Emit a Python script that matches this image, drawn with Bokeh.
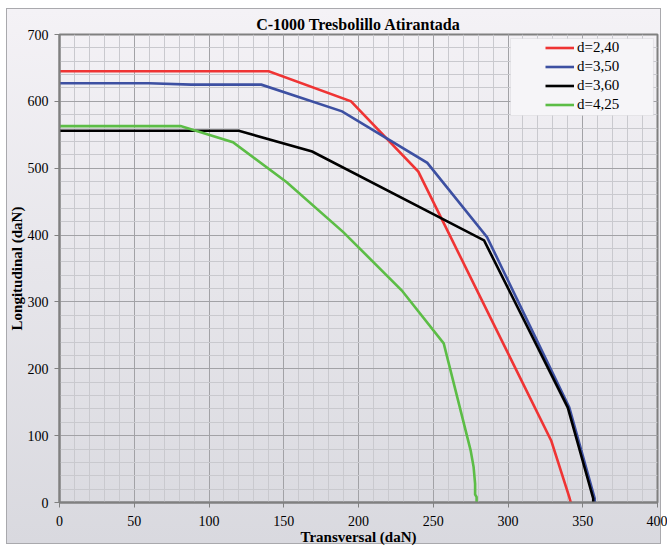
from bokeh.plotting import figure
from bokeh.models import Range1d, SingleIntervalTicker, Legend, LegendItem, BoxAnnotation
from bokeh.embed import file_html
from bokeh.resources import INLINE

# Load curves: transversal (x) vs longitudinal (y) capacity, daN
series_labels = ["d=2,40", "d=3,50", "d=3,60", "d=4,25"]
series_colors = ["#ef3434", "#3d50a2", "#000000", "#5cbd46"]

x_d240 = [0, 140, 195, 240, 329, 341, 342]
y_d240 = [645, 645, 600, 495, 92, 8, 0]

x_d350 = [0, 60, 88, 135, 189, 246, 286, 341, 358, 358]
y_d350 = [627, 627, 625, 625, 585, 508, 397, 142, 6, 0]

x_d360 = [0, 120, 169, 284, 340, 357, 357]
y_d360 = [556, 556, 525, 392, 142, 6, 0]

x_d425 = [0, 81, 116, 152, 190, 229, 257, 275, 277, 278, 278, 279, 279]
y_d425 = [563, 563, 539, 479, 404, 317, 238, 78, 53, 28, 12, 8, 0]

xs = [x_d240, x_d350, x_d360, x_d425]
ys = [y_d240, y_d350, y_d360, y_d425]

SERIF = "Liberation Serif"

p = figure(
    width=667, height=548,
    output_backend="svg", toolbar_location=None,
    x_range=Range1d(0, 400), y_range=Range1d(0, 700),
    min_border_left=59, min_border_right=10,
    min_border_top=34, min_border_bottom=46,
)

# page background: white margin, thin grey frame, soft vertical gradient
p.styles = {
    "background": (
        "linear-gradient(#f4f2f6, #d9d9df) 7px 9px / 653px 534px no-repeat, "
        "linear-gradient(#a9a9ad, #a9a9ad) 6px 8px / 655px 536px no-repeat, "
        "#ffffff"
    )
}
p.border_fill_alpha = 0
p.background_fill_alpha = 0

p.title.text = "C-1000 Tresbolillo Atirantada"
p.title.text_font = SERIF
p.title.text_font_size = "16px"
p.title.text_font_style = "bold"
p.title.text_color = "#000000"
p.title.align = "center"
p.title.standoff = 3

p.outline_line_color = "#808080"
p.outline_line_width = 2

p.xaxis.ticker = SingleIntervalTicker(interval=50, num_minor_ticks=5)
p.yaxis.ticker = SingleIntervalTicker(interval=100, num_minor_ticks=5)

for ax in (p.xaxis, p.yaxis):
    ax.axis_line_color = "#808080"
    ax.axis_line_width = 2
    ax.major_tick_line_color = "#808080"
    ax.major_tick_out = 5
    ax.major_tick_in = 0
    ax.minor_tick_line_color = None
    ax.major_label_text_font = SERIF
    ax.major_label_text_font_size = "14px"
    ax.major_label_text_color = "#000000"
    ax.axis_label_text_font = SERIF
    ax.axis_label_text_font_size = "15px"
    ax.axis_label_text_font_style = "bold"
    ax.axis_label_text_color = "#000000"
    ax.axis_label_standoff = 0

p.xaxis.axis_label = "Transversal (daN)"
p.yaxis.axis_label = "Longitudinal (daN)"
p.xaxis.major_label_standoff = 8
p.yaxis.major_label_standoff = 6

for g in (p.xgrid, p.ygrid):
    g.grid_line_color = "#a2a2a6"
    g.grid_line_width = 1
    g.minor_grid_line_color = "#c9c9ce"
    g.minor_grid_line_width = 1

items = []
for lab, col, x, y in zip(series_labels, series_colors, xs, ys):
    r = p.line(x, y, line_color=col, line_width=2.6, line_join="miter")
    items.append(LegendItem(label=lab, renderers=[r]))

# legend frame
legend_box = BoxAnnotation(
    left=301.7, right=397.3, top=694.0, bottom=578.8,
    fill_color="#f6f5f8", fill_alpha=1.0,
    line_color="#c4c4c8", line_width=1,
)
p.add_layout(legend_box)

legend = Legend(
    items=items, location=(486, 388),
    padding=0, spacing=0, margin=0,
    glyph_width=29, glyph_height=19, label_height=19,
    label_standoff=3,
    label_text_font=SERIF, label_text_font_size="15px",
    label_text_color="#000000",
    background_fill_alpha=0, border_line_color=None,
)
p.add_layout(legend)

open("out.html", "w").write(file_html(p, INLINE))
